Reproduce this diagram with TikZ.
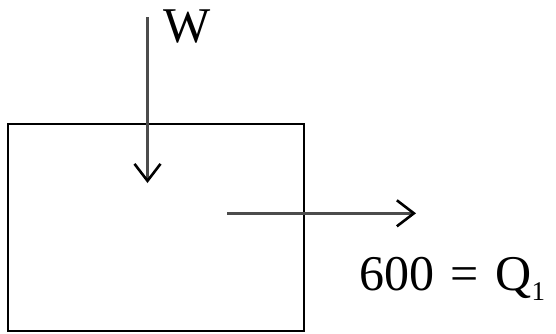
\documentclass[tikz,border=0pt]{standalone}
\usepackage{fontspec}
\newfontfamily\tms{Liberation Serif}
\usetikzlibrary{arrows.meta}
\tikzset{
  lbl/.style={inner sep=0pt, font=\tms\fontsize{50bp}{60bp}\selectfont},
  flow/.style={line width=2.4bp, draw=black!70, -{Straight Barb[length=17bp,width=26bp,line width=2.6bp,color=black]}},
  sys/.style={draw=black, line width=1.6bp, minimum width=296bp, minimum height=207bp, inner sep=0pt}
}
\begin{document}
\begin{tikzpicture}[x=1bp,y=-1bp]
\useasboundingbox (0,0) rectangle (556,333);
\node[sys] (box) at (156,227.5) {};
\coordinate (wtop) at (147.5,17);
\coordinate (wtip) at (147.5,183);
\coordinate (qstart) at (227,213.3);
\coordinate (qtip) at (416,213.3);
\draw[flow] (wtop) -- (wtip);
\draw[flow] (qstart) -- (qtip);
\node[lbl, anchor=base west] (w) at (163,42) {W};
\node[lbl, anchor=base west] (q) at (359,290) {600\kern4bp\ =\ \kern4bp Q\raisebox{-10bp}{\tms\fontsize{27bp}{30bp}\selectfont 1}};
\end{tikzpicture}
\end{document}
